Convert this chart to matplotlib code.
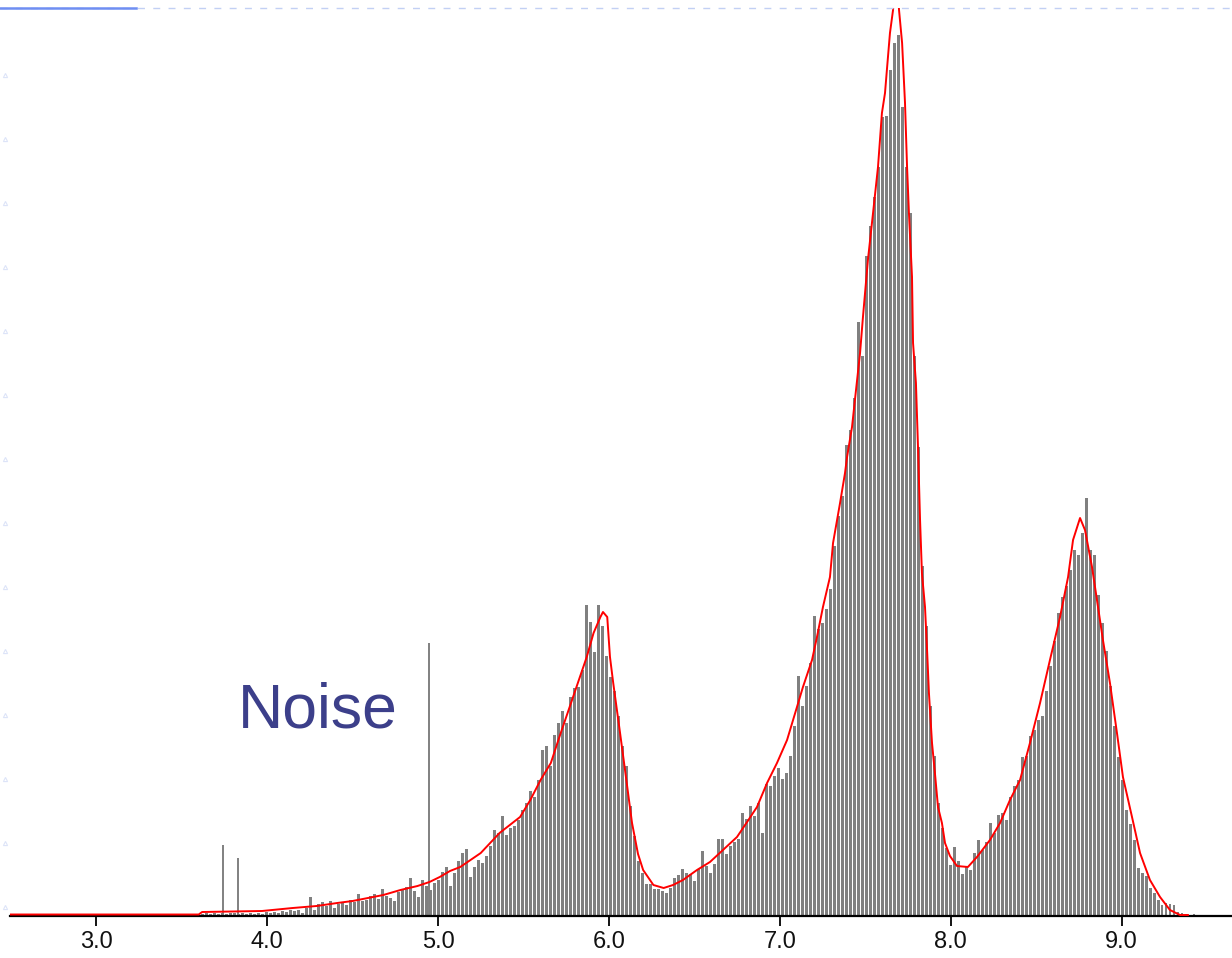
import numpy as np
import matplotlib
matplotlib.use("Agg")
import matplotlib.pyplot as plt

# ---------------- data ----------------
bin_start = 3.409      # centre of first histogram bin
bin_width = 0.0234     # histogram bin width

counts = [
    # 3.41 - 3.97
    1, 2, 1, 2, 0, 0, 0, 2, 0, 2, 3, 2, 3, 2, 3, 2, 3, 3, 2, 3, 2, 3, 2, 3, 2,
    # 3.99 - 4.99
    4, 3, 4, 3, 5, 4, 6, 5, 6, 3, 8, 19, 6, 12, 14, 10, 15, 8, 12, 13,
    11, 16, 14, 22, 15, 16, 20, 22, 17, 27, 20, 18, 15, 24, 27, 29, 38, 25, 19, 36,
    30, 26, 33, 36,
    # 5.02 - 6.17
    44, 49, 30, 43, 55, 63, 67, 39, 49, 56, 53, 60, 70, 86, 83, 100, 81, 88, 90, 96,
    106, 113, 125, 119, 136, 166, 170, 150, 181, 193, 205, 193, 219, 228, 229, 246,
    311, 294, 264, 311, 290, 260, 239, 225, 200, 170, 150, 110, 80, 55,
    # 6.19 - 7.29
    43, 32, 32, 27, 27, 25, 23, 28, 38, 41, 47, 43, 42, 35, 47, 65, 50, 43, 52, 77,
    77, 62, 70, 74, 77, 103, 97, 110, 100, 113, 83, 132, 130, 140, 148, 137, 143, 160,
    190, 240, 210, 230, 253, 300, 287, 293, 307, 327,
    # 7.32 - 7.97
    370, 400, 420, 471, 486, 518, 594, 560, 660, 690, 719, 749, 799, 800, 846, 873,
    881, 809, 749, 703, 560, 469, 350, 290, 210, 160, 113, 88, 68,
    # 7.99 - 9.42
    51, 69, 55, 42, 49, 46, 63, 76, 66, 74, 93, 83, 101, 103, 96, 119, 130, 136, 159, 160,
    180, 186, 196, 200, 225, 250, 275, 303, 319, 330, 346, 366, 361, 383, 418, 366, 361,
    321, 293, 265, 230, 190, 159, 136, 106, 92, 76, 48, 43, 40, 28, 23, 16, 11, 13, 12,
    11, 4, 3, 2, 1, 2,
]

noise_x = [3.742, 3.830, 4.947]
noise_h = [71, 58, 273]

fit_x = [2.50, 3.60, 3.62, 3.97, 4.15, 4.29, 4.41, 4.50, 4.59, 4.68, 4.78, 4.88, 4.95,
         5.01, 5.07, 5.13, 5.25, 5.36, 5.48, 5.54, 5.60, 5.66, 5.71, 5.77, 5.83, 5.87,
         5.91, 5.95, 5.965, 5.99, 6.006, 6.025, 6.065, 6.094, 6.135, 6.17, 6.20, 6.26,
         6.32, 6.375, 6.433, 6.515, 6.591, 6.667, 6.749, 6.808, 6.866, 6.925, 6.983,
         7.042, 7.100, 7.135, 7.188, 7.217, 7.252, 7.293, 7.311, 7.352, 7.381, 7.393,
         7.422, 7.439, 7.469, 7.486, 7.515, 7.545, 7.574, 7.597, 7.615, 7.626, 7.644,
         7.662, 7.68, 7.697, 7.715, 7.732, 7.744, 7.755, 7.773, 7.779, 7.796, 7.808,
         7.820, 7.831, 7.849, 7.861, 7.872, 7.890, 7.907, 7.925, 7.948, 7.966, 7.995,
         8.036, 8.100, 8.153, 8.229, 8.288, 8.346, 8.405, 8.463, 8.522, 8.580, 8.639,
         8.686, 8.715, 8.756, 8.785, 8.826, 8.855, 8.890, 8.931, 8.972, 9.007, 9.060,
         9.107, 9.165, 9.224, 9.282, 9.341, 9.387]
fit_y = [1.5, 1.5, 4, 5, 8, 10, 13, 15, 18, 21, 26, 30, 34,
         39, 45, 49, 63, 83, 99, 116, 136, 153, 179, 209, 239, 259,
         283, 299, 304, 299, 259, 233, 183, 146, 93, 62, 46, 31,
         28, 31, 36, 46, 54, 66, 79, 94, 109, 133, 153,
         176, 209, 229, 256, 279, 309, 339, 373, 413, 443, 459,
         489, 516, 563, 599, 656, 703, 749, 803, 823, 846, 883,
         906, 950, 906, 873, 813, 749, 703, 639, 573, 533, 469,
         396, 343, 309, 266, 223, 173, 143, 109, 93, 73, 60,
         50, 49, 59, 76, 93, 116, 136, 173, 213, 256, 299,
         339, 376, 398, 386, 349, 316, 276, 233, 183, 139, 99,
         63, 36, 19, 6, 1, 1]

xticks = [3.0, 4.0, 5.0, 6.0, 7.0, 8.0, 9.0]
xtick_labels = ["3.0", "4.0", "5.0", "6.0", "7.0", "8.0", "9.0"]
annotation = "Noise"

# ---------------- figure ----------------
W, H = 1232, 958
fig = plt.figure(figsize=(W / 100, H / 100), dpi=100)
fig.patch.set_facecolor("white")

ax = fig.add_axes([10 / W, 42 / H, 1222 / W, 908 / H])
ax.set_xlim(2.496, 9.645)
ax.set_ylim(0, 908)

centers = bin_start + bin_width * np.arange(len(counts))
ax.bar(centers, counts, width=bin_width * 0.74, color="#808080", linewidth=0,
       antialiased=False, zorder=2)
ax.vlines(noise_x, 0, noise_h, color="#808080", linewidth=1.4, zorder=2)
ax.plot(fit_x, fit_y, color="#ff0000", linewidth=1.4, zorder=3, clip_on=True)

for s in ["left", "right", "top"]:
    ax.spines[s].set_visible(False)
ax.spines["bottom"].set_linewidth(1.6)
ax.spines["bottom"].set_color("black")
ax.set_yticks([])
ax.set_xticks(xticks)
ax.set_xticklabels(xtick_labels, fontfamily="Liberation Sans", fontsize=17, color="#111111")
ax.tick_params(axis="x", direction="out", length=7, width=1.3, pad=4, color="black")

ax.text(0.1866, 0.208, annotation, transform=ax.transAxes, fontsize=45,
        color="#3c3f8a", fontfamily="Liberation Sans", ha="left", va="baseline")

# faint slide decorations
fig.add_artist(plt.Line2D([0, 1], [1 - 8 / H, 1 - 8 / H], color="#c2d0f4",
                          linewidth=1.0, linestyle=(0, (5, 6)), transform=fig.transFigure))
fig.add_artist(plt.Line2D([0, 136 / W], [1 - 8 / H, 1 - 8 / H], color="#6f8ef2",
                          linewidth=1.8, transform=fig.transFigure))
deco_y = [1 - (75 + 64 * k) / H for k in range(14)]
fig.add_artist(plt.Line2D([5 / W] * len(deco_y), deco_y, linestyle="none", marker="^",
                          markersize=3, markerfacecolor="none", markeredgecolor="#dde4f8",
                          markeredgewidth=0.8, transform=fig.transFigure))

fig.savefig("out.png", dpi=100, facecolor="white")
